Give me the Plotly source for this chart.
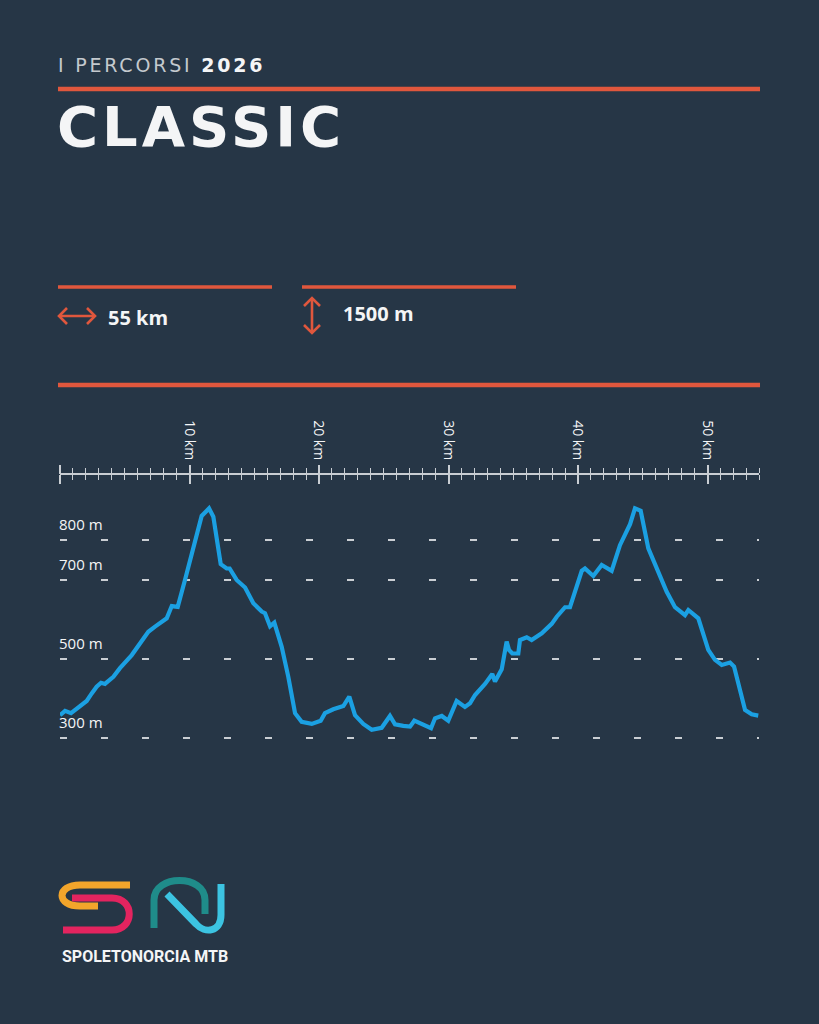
import plotly.graph_objects as go

# ---------------- data ----------------
distance_km = [0.0, 0.39, 0.85, 1.41, 2.06, 2.45, 2.83, 3.17, 3.47, 4.12, 4.63, 5.54, 6.82, 7.34,
               8.24, 8.63, 9.09, 9.65, 10.29, 10.94, 11.51, 11.84, 12.41, 12.87, 13.10, 13.64,
               14.29, 14.93, 15.58, 15.83, 16.22, 16.55, 17.12, 17.63, 18.15, 18.66, 19.44,
               20.13, 20.46, 21.10, 21.88, 22.34, 22.78, 23.42, 24.07, 24.84, 25.48, 25.87,
               26.51, 27.03, 27.36, 27.93, 28.65, 28.96, 29.48, 29.98, 30.63, 31.27, 31.66,
               32.05, 32.82, 33.38, 33.59, 34.11, 34.49, 34.67, 34.93, 35.39, 35.52, 36.04,
               36.42, 37.20, 37.97, 38.36, 39.00, 39.38, 39.82, 40.29, 40.54, 41.18, 41.83,
               42.60, 43.24, 44.02, 44.40, 44.84, 45.43, 46.20, 46.85, 47.49, 48.26, 48.52,
               49.29, 50.06, 50.58, 51.10, 51.74, 52.05, 52.90, 53.41, 53.92]
elevation_m = [357, 368, 362, 377, 393, 412, 429, 439, 436, 454, 476, 509, 568, 581,
               602, 633, 631, 699, 775, 861, 880, 859, 739, 728, 728, 699,
               680, 640, 619, 615, 582, 591, 530, 454, 362, 340, 335,
               343, 362, 372, 380, 404, 357, 335, 320, 325, 355, 334,
               330, 328, 343, 335, 324, 349, 355, 343, 393, 378, 387,
               408, 436, 461, 442, 473, 543, 522, 513, 513, 547, 554,
               547, 564, 588, 606, 630, 630, 678, 722, 728, 709, 737,
               722, 787, 840, 880, 874, 779, 716, 669, 630, 610, 623,
               602, 522, 497, 484, 490, 480, 370, 359, 356]

km_range = [0, 54]
km_minor_step = 1
km_tick_vals = [0, 10, 20, 30, 40, 50]
km_tick_text = ["", "10 km", "20 km", "30 km", "40 km", "50 km"]
elev_tick_vals = [300, 500, 700, 800]
elev_tick_text = ["300 m", "500 m", "700 m", "800 m"]

subtitle_light = "I PERCORSI"
subtitle_bold = "2026"
title_text = "CLASSIC"
stat_distance = "55 km"
stat_climb = "1500 m"
brand = "SPOLETONORCIA MTB"

# ---------------- style ----------------
W, H = 819, 1024
BG = "#263646"
RED = "#e0573d"
BLUE = "#1ba0e2"
TICK = "#c9ced3"
WHITE = "#f4f5f6"


def px(x):
    return x / W


def py(y):
    return 1 - y / H


minor_vals = list(range(km_range[0], km_range[1] + 1, km_minor_step))

fig = go.Figure()
fig.add_trace(go.Scatter(x=distance_km, y=elevation_m, mode="lines",
                         line=dict(color=BLUE, width=4.2),
                         hoverinfo="skip", showlegend=False))
# invisible companions so the ruler axes render
for ax in ["x2", "x3", "x4"]:
    fig.add_trace(go.Scatter(x=[distance_km[0]], y=[elevation_m[0]], xaxis=ax, mode="none",
                             hoverinfo="skip", showlegend=False))

x_dom = [px(60), px(759.3)]
ruler_pos = py(474)
y_dom = [py(745.6), py(500.5)]

tickfont = dict(family="Open Sans, sans-serif", size=14, color=WHITE)

common = dict(domain=x_dom, range=km_range, anchor="free", position=ruler_pos,
              showgrid=False, zeroline=False, tickmode="array", tickcolor=TICK, ticks="outside")

fig.update_layout(
    width=W, height=H, margin=dict(l=0, r=0, t=0, b=0),
    paper_bgcolor=BG, plot_bgcolor=BG,
    xaxis=dict(**common, side="top", showline=True, linecolor=TICK, linewidth=2,
               tickvals=minor_vals, ticklen=5, tickwidth=1.4, showticklabels=False),
    xaxis2=dict(**common, side="bottom", matches="x", overlaying="x", showline=False,
                tickvals=minor_vals, ticklen=5, tickwidth=1.4, showticklabels=False),
    xaxis3=dict(**common, side="top", matches="x", overlaying="x", showline=False,
                tickvals=km_tick_vals, ticktext=km_tick_text, ticklen=9, tickwidth=2.4,
                tickangle=90, tickfont=tickfont, showticklabels=True),
    xaxis4=dict(**common, side="bottom", matches="x", overlaying="x", showline=False,
                tickvals=km_tick_vals, ticklen=9, tickwidth=2.4, showticklabels=False),
    yaxis=dict(domain=y_dom, range=[280, 900], anchor="x", showline=False, zeroline=False,
               tickmode="array", tickvals=elev_tick_vals, ticks="", showticklabels=False,
               showgrid=True, gridcolor=TICK, gridwidth=1.6, griddash="7px,34px"),
)

shapes = []
for (x0, x1, y, w) in [(58, 760, 89, 4.5), (58, 272, 287, 3.5), (302, 516, 287, 3.5),
                       (58, 760, 385, 4.5)]:
    shapes.append(dict(type="line", xref="paper", yref="paper", x0=px(x0), x1=px(x1),
                       y0=py(y), y1=py(y), line=dict(color=RED, width=w)))


def P(x, y):
    return f"{px(x):.5f},{py(y):.5f}"


arrow_paths = [
    f"M {P(59,316)} L {P(95,316)}",
    f"M {P(67,308)} L {P(59,316)} L {P(67,324)}",
    f"M {P(87,308)} L {P(95,316)} L {P(87,324)}",
    f"M {P(312,298)} L {P(312,333)}",
    f"M {P(304,306)} L {P(312,298)} L {P(320,306)}",
    f"M {P(304,325)} L {P(312,333)} L {P(320,325)}",
]
for d in arrow_paths:
    shapes.append(dict(type="path", xref="paper", yref="paper", path=d,
                       line=dict(color=RED, width=2.6)))

logo = [
    ("#f2a52b", f"M {P(130,885)} L {P(80,885)} C {P(56,885)} {P(56,906)} {P(80,906)} L {P(98,906)}"),
    ("#e3245f", f"M {P(72,898)} L {P(112,898)} C {P(135,898)} {P(135,930)} {P(112,930)} L {P(63,930)}"),
    ("#1f8c8a", f"M {P(154,928)} L {P(154,900)} C {P(154,874)} {P(205,874)} {P(205,900)} L {P(205,914)}"),
    ("#3cc4e2", f"M {P(167,894)} L {P(196,924)} C {P(205,934)} {P(221,932)} {P(221,915)} L {P(221,884)}"),
]
for col, d in logo:
    shapes.append(dict(type="path", xref="paper", yref="paper", path=d,
                       line=dict(color=col, width=7)))

fig.update_layout(shapes=shapes)

ann = []
# elevation labels sit just above their gridlines
for v, t in zip(elev_tick_vals, elev_tick_text):
    ann.append(dict(xref="paper", yref="y", x=px(57), y=v, xanchor="left", yanchor="middle",
                    yshift=16, showarrow=False, text=t,
                    font=dict(family="Open Sans, sans-serif", size=15, color=WHITE)))
ann.append(dict(xref="paper", yref="paper", x=px(56), y=py(65), xanchor="left", yanchor="middle",
                showarrow=False,
                text=(f"<span style='color:#c4c9ce;letter-spacing:2.8px'>{subtitle_light} </span>"
                      f"<span style='font-weight:bold;letter-spacing:2.8px'>{subtitle_bold}</span>"),
                font=dict(family="DejaVu Sans, sans-serif", size=19, color=WHITE)))
ann.append(dict(xref="paper", yref="paper", x=px(55), y=py(126), xanchor="left", yanchor="middle",
                showarrow=False,
                text=f"<span style='font-weight:bold;letter-spacing:4px'>{title_text}</span>",
                font=dict(family="DejaVu Sans, sans-serif", size=56, color=WHITE)))
ann.append(dict(xref="paper", yref="paper", x=px(106), y=py(317), xanchor="left", yanchor="middle",
                showarrow=False, text=f"<b>{stat_distance}</b>",
                font=dict(family="Open Sans, sans-serif", size=20, color=WHITE)))
ann.append(dict(xref="paper", yref="paper", x=px(341), y=py(313), xanchor="left", yanchor="middle",
                showarrow=False, text=f"<b>{stat_climb}</b>",
                font=dict(family="Open Sans, sans-serif", size=20, color=WHITE)))
ann.append(dict(xref="paper", yref="paper", x=px(60), y=py(956), xanchor="left", yanchor="middle",
                showarrow=False, text=f"<b>{brand}</b>",
                font=dict(family="Roboto, sans-serif", size=16, color=WHITE)))
fig.update_layout(annotations=ann)

fig.write_html("out.html", config={"displayModeBar": False},
               post_script="document.body.style.margin='0px';")
